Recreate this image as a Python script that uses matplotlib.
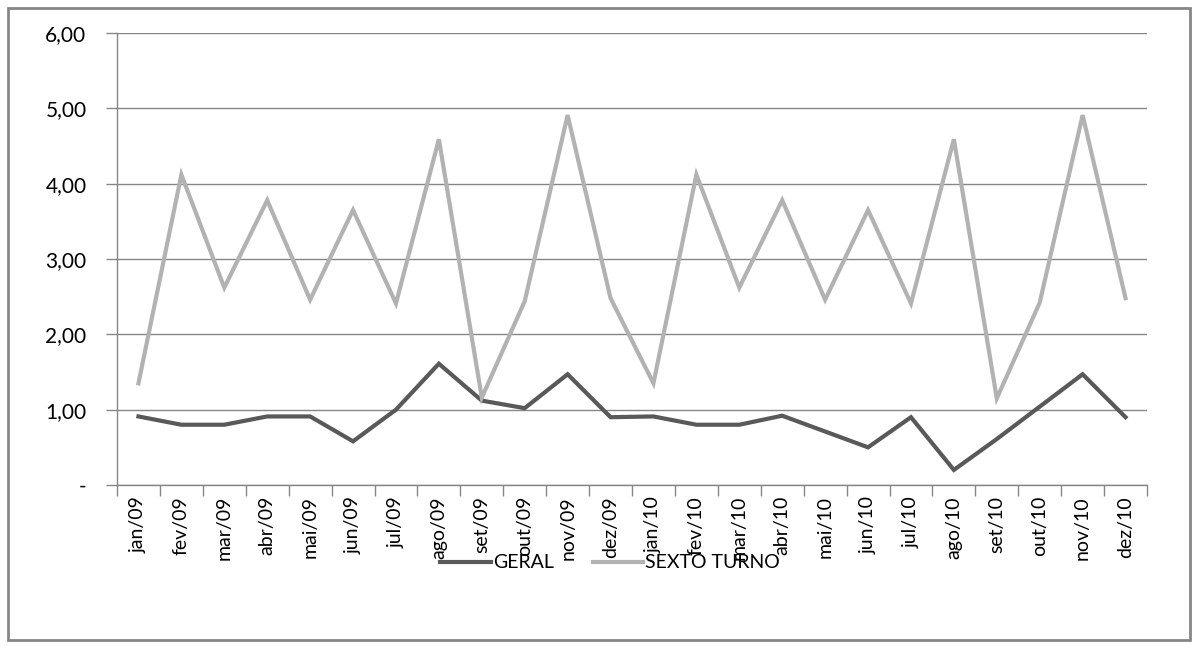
import matplotlib
matplotlib.use("Agg")
import matplotlib.pyplot as plt
from matplotlib.patches import Rectangle

# monthly labels, 2009-2010
meses = ["jan/09", "fev/09", "mar/09", "abr/09", "mai/09", "jun/09",
         "jul/09", "ago/09", "set/09", "out/09", "nov/09", "dez/09",
         "jan/10", "fev/10", "mar/10", "abr/10", "mai/10", "jun/10",
         "jul/10", "ago/10", "set/10", "out/10", "nov/10", "dez/10"]

geral = [0.91, 0.80, 0.80, 0.91, 0.91, 0.58, 1.00, 1.61, 1.12, 1.02, 1.47, 0.90,
         0.91, 0.80, 0.80, 0.92, 0.71, 0.50, 0.90, 0.20, 0.61, 1.04, 1.47, 0.90]

sexto_turno = [1.35, 4.12, 2.62, 3.78, 2.46, 3.65, 2.41, 4.59, 1.16, 2.44, 4.91, 2.48,
               1.35, 4.12, 2.62, 3.78, 2.46, 3.65, 2.41, 4.59, 1.15, 2.42, 4.91, 2.48]

y_ticks = [0, 1, 2, 3, 4, 5, 6]
y_labels = ["-", "1,00", "2,00", "3,00", "4,00", "5,00", "6,00"]

plt.rcParams['font.family'] = ['Lato', 'DejaVu Sans']

fig = plt.figure(figsize=(11.99, 6.48), dpi=100)
fig.patches.append(Rectangle((8 / 1199, 8 / 648), 1182 / 1199, 632 / 648,
                             transform=fig.transFigure, fill=False,
                             edgecolor="#868686", linewidth=2))

ax = fig.add_axes([117 / 1199, 1 - 485 / 648, 1030 / 1199, 452 / 648])

x = list(range(len(meses)))
ax.plot(x, geral, color="#595959", linewidth=3.0, label="GERAL",
        solid_joinstyle="miter")
ax.plot(x, sexto_turno, color="#b2b2b2", linewidth=3.0, label="SEXTO TURNO",
        solid_joinstyle="miter")

ax.set_xlim(-0.5, len(meses) - 0.5)
ax.set_ylim(0, 6)
ax.set_yticks(y_ticks)
ax.set_yticklabels(y_labels, fontsize=15)
ax.set_xticks([i - 0.5 for i in range(len(meses) + 1)])
ax.set_xticklabels([])
ax.set_xticks(x, minor=True)
ax.set_xticklabels(meses, minor=True, rotation=90, fontsize=14)
ax.tick_params(axis="x", which="major", length=8, color="#868686", width=1)
ax.tick_params(axis="x", which="minor", length=0, pad=8)
ax.tick_params(axis="y", length=8, color="#868686", width=1, pad=14)

ax.grid(axis="y", color="#868686", linewidth=1)
ax.set_axisbelow(True)
for side in ["top", "right"]:
    ax.spines[side].set_visible(False)
for side in ["left", "bottom"]:
    ax.spines[side].set_color("#868686")
    ax.spines[side].set_linewidth(1)

fig.legend(loc="center", bbox_to_anchor=(610 / 1199, 1 - 563 / 648), ncol=2,
           frameon=False, fontsize=14, handlelength=2.6, handletextpad=0.1,
           columnspacing=2.0)

fig.savefig("out.png", dpi=100)
